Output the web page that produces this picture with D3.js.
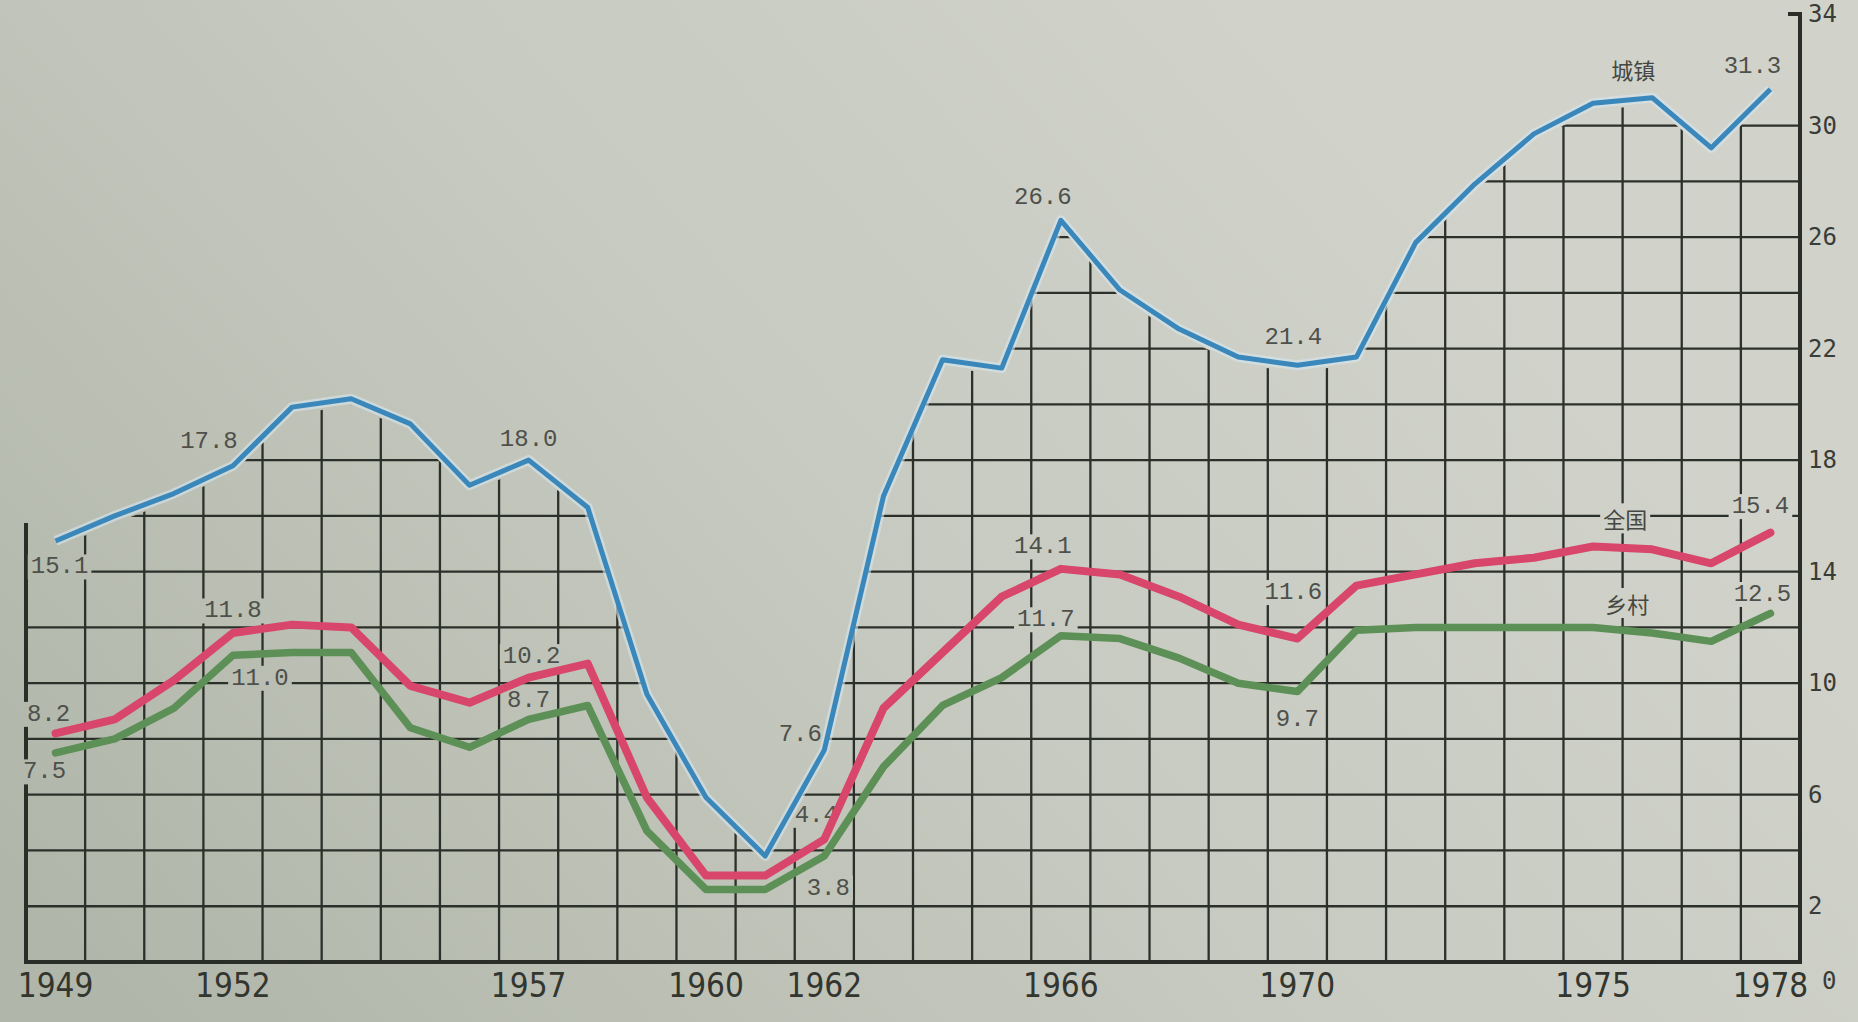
<!DOCTYPE html>
<html><head><meta charset="utf-8">
<script src="https://cdn.jsdelivr.net/npm/d3@7"></script>
<style>html,body{margin:0;padding:0;background:#c4c7bd;overflow:hidden}</style>
</head><body><svg id="chart" width="1858" height="1022"></svg>
<script>
// ---------- data ----------
const years = [1949,1950,1951,1952,1953,1954,1955,1956,1957,1958,1959,1960,1961,1962,1963,
               1964,1965,1966,1967,1968,1969,1970,1971,1972,1973,1974,1975,1976,1977,1978];
const urban    = [15.1,16.0,16.8,17.8,19.9,20.2,19.3,17.1,18.0,16.3,9.6,5.9,3.8,7.6,16.7,
                  21.6,21.3,26.6,24.1,22.7,21.7,21.4,21.7,25.8,27.9,29.7,30.8,31.0,29.2,31.3];
const national = [8.2,8.7,10.1,11.8,12.1,12.0,9.9,9.3,10.2,10.7,5.9,3.1,3.1,4.4,9.1,
                  11.1,13.1,14.1,13.9,13.1,12.1,11.6,13.5,13.9,14.3,14.5,14.9,14.8,14.3,15.4];
const rural    = [7.5,8.0,9.1,11.0,11.1,11.1,8.4,7.7,8.7,9.2,4.7,2.6,2.6,3.8,7.0,
                  9.2,10.2,11.7,11.6,10.9,10.0,9.7,11.9,12.0,12.0,12.0,12.0,11.8,11.5,12.5];
const seriesNames = ["城镇","全国","乡村"];
const yearTicks  = [1949,1952,1957,1960,1962,1966,1970,1975,1978];
const valueTicks = [0,2,6,10,14,18,22,26,30,34];
const gridValues = [2,4,6,8,10,12,14,16,18,20,22,24,26,28,30,32];
const labelYears = [1949,1952,1957,1962,1966,1970,1978];
const nameYear = 1976;

// ---------- layout / style ----------
const W=1858,H=1022;
const L=26,R=1800,Y0=962,YT=14;
const labelOffsets = {
  urban:    {1949:[4,26],1952:[-24,-24],1957:[0,-21],1962:[-24,-16],1966:[-18,-23],1970:[-4,-28],1978:[-18,-23]},
  national: {1949:[-7,-19],1952:[0,-22],1957:[3,-21],1962:[-8,-24],1966:[-18,-22],1970:[-4,-46],1978:[-10,-26]},
  rural:    {1949:[-11,19],1952:[27,23],1957:[0,-19],1962:[4,32],1966:[-15,-16],1970:[0,28],1978:[-8,-19]}
};
const nameOffsets = {urban:[-19,-29], national:[-27,-31], rural:[-25,-30]};
const colors = {urban:'#3a88bb', national:'#d8466c', rural:'#5d9056'};

const x = d3.scaleBand().domain(years).range([L,R]).paddingInner(0).paddingOuter(0);
const cx = yr => x(yr) + x.bandwidth()/2;
const y = d3.scaleLinear().domain([0,34]).range([Y0,YT]);

const svg = d3.select('#chart');
const defs = svg.append('defs');
const grad = defs.append('linearGradient').attr('id','paper').attr('gradientUnits','userSpaceOnUse')
  .attr('x1',1300).attr('y1',0).attr('x2',150).attr('y2',1022);
grad.append('stop').attr('offset','0').attr('stop-color','#d1d3cb');
grad.append('stop').attr('offset','0.45').attr('stop-color','#c7cac0');
grad.append('stop').attr('offset','1').attr('stop-color','#b1b6aa');
svg.append('rect').attr('width',W).attr('height',H).attr('fill','url(#paper)');

// clip region: below the urban curve
const off = 7;
const clipPts = [[L, y(urban[0])+off]]
  .concat(years.map((yr,i)=>[cx(yr), y(urban[i])+off]))
  .concat([[R, y(urban[urban.length-1])+off],[R,Y0+6],[L,Y0+6]]);
defs.append('clipPath').attr('id','under').append('path').attr('d', d3.line()(clipPts)+'Z');

const grid = svg.append('g').attr('clip-path','url(#under)')
  .attr('stroke','#2c302a').attr('stroke-width',2.3);
grid.selectAll('line.h').data(gridValues).join('line').attr('class','h')
  .attr('x1',L).attr('x2',R).attr('y1',d=>y(d)).attr('y2',d=>y(d));
grid.selectAll('line.v').data(years.slice(1)).join('line').attr('class','v')
  .attr('x1',d=>x(d)).attr('x2',d=>x(d)).attr('y1',Y0).attr('y2',YT);

// axes lines
const ax = svg.append('g').attr('stroke','#2a2d28').attr('stroke-width',4).attr('fill','none');
ax.append('line').attr('x1',L-2).attr('x2',R+2).attr('y1',Y0).attr('y2',Y0);
ax.append('line').attr('x1',L).attr('x2',L).attr('y1',Y0+2).attr('y2',y(urban[0])-18);
ax.append('path').attr('d',`M${R-12},${y(34)}H${R}V${Y0+2}`);

// right axis labels
const yAxis = svg.append('g').attr('transform',`translate(${R},0)`)
  .call(d3.axisRight(y).tickValues(valueTicks).tickSize(0).tickPadding(8).tickFormat(d3.format('d')));
yAxis.select('.domain').remove();
yAxis.selectAll('text').attr('font-family','"DejaVu Sans Mono", monospace').attr('font-size',24)
  .attr('fill','#3a3c38');
yAxis.selectAll('.tick').filter(d=>d===0).select('text').attr('dx',14).attr('dy','1.1em');

// bottom axis labels
const xAxis = svg.append('g').attr('transform',`translate(0,${Y0})`)
  .call(d3.axisBottom(x).tickValues(yearTicks).tickSize(0).tickPadding(12));
xAxis.select('.domain').remove();
xAxis.selectAll('text').attr('font-family','"Liberation Sans Narrow","DejaVu Sans Condensed",sans-serif')
  .attr('font-size',33).attr('fill','#33352f');

// value labels (with paper background to break grid)
const labelLayer = svg.append('g');
function addLabel(txt, px, py, font, size, fill){
  const g = labelLayer.append('g');
  const r = g.append('rect').attr('fill','url(#paper)');
  const t = g.append('text').attr('x',px).attr('y',py).attr('text-anchor','middle')
    .attr('dominant-baseline','central').attr('font-family',font).attr('font-size',size)
    .attr('fill',fill).text(txt);
  const b = t.node().getBBox();
  r.attr('x',b.x-3).attr('y',b.y+1).attr('width',b.width+6).attr('height',b.height-2);
}
const series = [
  {key:'urban', name:seriesNames[0], values:urban},
  {key:'national', name:seriesNames[1], values:national},
  {key:'rural', name:seriesNames[2], values:rural}
];
series.forEach(s=>{
  labelYears.forEach(yr=>{
    const i = years.indexOf(yr), o = labelOffsets[s.key][yr];
    addLabel(s.values[i].toFixed(1), cx(yr)+o[0], y(s.values[i])+o[1],
      '"Liberation Mono","DejaVu Sans Mono",monospace', 24, '#4e504b');
  });
  const i = years.indexOf(nameYear), o = nameOffsets[s.key];
  addLabel(s.name, cx(nameYear)+o[0], y(s.values[i])+o[1], '"Noto Sans CJK SC",sans-serif', 22, '#454742');
});

// lines
const line = d3.line().x((d,i)=>cx(years[i])).y(d=>y(d));
svg.append('path').datum(rural).attr('d',line).attr('fill','none')
  .attr('stroke',colors.rural).attr('stroke-width',7.5).attr('stroke-linejoin','round').attr('stroke-linecap','round');
svg.append('path').datum(national).attr('d',line).attr('fill','none')
  .attr('stroke',colors.national).attr('stroke-width',8).attr('stroke-linejoin','round').attr('stroke-linecap','round');
svg.append('path').datum(urban).attr('d',line).attr('fill','none')
  .attr('stroke','#d6e6ee').attr('stroke-opacity',0.6).attr('stroke-width',10).attr('stroke-linejoin','round');
svg.append('path').datum(urban).attr('d',line).attr('fill','none')
  .attr('stroke',colors.urban).attr('stroke-width',5).attr('stroke-linejoin','round');
</script>
</body></html>
